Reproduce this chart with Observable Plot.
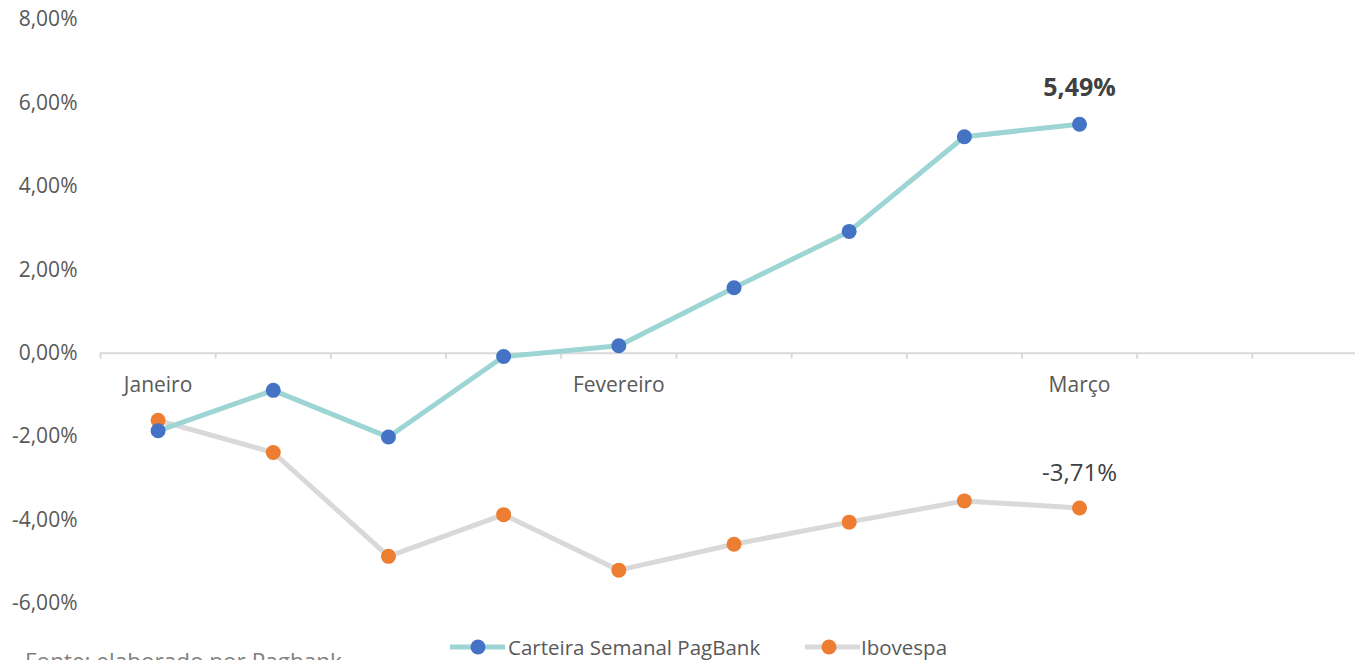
<!DOCTYPE html>
<html>
<head>
<meta charset="utf-8">
<script src="https://cdn.jsdelivr.net/npm/d3@7"></script>
<script src="https://cdn.jsdelivr.net/npm/@observablehq/plot@0.6"></script>
<style>
  html, body { margin: 0; padding: 0; background: #fff; overflow: hidden; }
  body { width: 1355px; height: 660px; font-family: "Open Sans", sans-serif; }
  #chart svg { display: block; }
  #foot { position: relative; width: 1355px; height: 30px; }
  #fonte { position: absolute; left: 25px; top: 15px; font-size: 22.5px; color: #7f7f7f; white-space: nowrap; }
  .leg { position: absolute; top: 3px; display: flex; align-items: center; font-size: 20.5px; color: #595959; white-space: nowrap; }
</style>
</head>
<body>
<div id="chart"></div>
<div id="foot">
  <div id="fonte">Fonte: elaborado por Pagbank</div>
  <div class="leg" style="left:450px">
    <svg width="58" height="24"><line x1="0" y1="12" x2="55" y2="12" stroke="#9dd5d5" stroke-width="5"/><circle cx="28" cy="12" r="7.5" fill="#4472c4"/></svg>
    <span>Carteira Semanal PagBank</span>
  </div>
  <div class="leg" style="left:805px">
    <svg width="56" height="24"><line x1="0" y1="12" x2="55" y2="12" stroke="#d9d9d9" stroke-width="5"/><circle cx="24" cy="12" r="7.5" fill="#ed7d31"/></svg>
    <span>Ibovespa</span>
  </div>
</div>
<script>
// Weekly points (1..9) on an axis of 11 category slots
const weeks = [1, 2, 3, 4, 5, 6, 7, 8, 9];
const carteira = [-1.86, -0.89, -2.01, -0.08, 0.18, 1.57, 2.92, 5.19, 5.49];
const ibovespa = [-1.61, -2.38, -4.87, -3.87, -5.20, -4.58, -4.05, -3.54, -3.71];
const monthLabels = ["Janeiro", "Fevereiro", "Março"];
const monthPositions = [1, 5, 9];
const slotBoundaries = [0.5, 1.5, 2.5, 3.5, 4.5, 5.5, 6.5, 7.5, 8.5, 9.5, 10.5, 11.5];
const yTicks = [-6, -4, -2, 0, 2, 4, 6, 8];
const lastLabels = ["5,49%", "-3,71%"];

const fmt = d => d.toFixed(2).replace(".", ",") + "%";
const cData = weeks.map((w, i) => ({x: w, y: carteira[i]}));
const iData = weeks.map((w, i) => ({x: w, y: ibovespa[i]}));
const months = monthLabels.map((m, i) => ({x: monthPositions[i], label: m}));

const chart = Plot.plot({
  width: 1355,
  height: 630,
  marginLeft: 100,
  marginRight: -12,
  marginTop: 19,
  marginBottom: 27,
  style: {fontFamily: "Open Sans, sans-serif", background: "#fff"},
  x: {type: "linear", domain: [0.5, 11.5], axis: null},
  y: {domain: [-6, 8]},
  marks: [
    Plot.axisY({ticks: yTicks, tickFormat: fmt, tickSize: 0, tickPadding: 23, fontSize: 21, fill: "#595959", label: null}),
    Plot.ruleY([0], {stroke: "#d9d9d9", strokeWidth: 2}),
    Plot.ruleX(slotBoundaries, {x: d => d, y1: 0, y2: 0, insetBottom: -6, stroke: "#d9d9d9", strokeWidth: 2}),
    Plot.text(months, {x: "x", y: 0, text: "label", dy: 32, fontSize: 21, fill: "#595959"}),
    Plot.line(iData, {x: "x", y: "y", stroke: "#d9d9d9", strokeWidth: 5}),
    Plot.line(cData, {x: "x", y: "y", stroke: "#9dd5d5", strokeWidth: 5}),
    Plot.dot(iData, {x: "x", y: "y", r: 7.5, fill: "#ed7d31"}),
    Plot.dot(cData, {x: "x", y: "y", r: 7.5, fill: "#4472c4"}),
    Plot.text([cData[cData.length - 1]], {x: "x", y: "y", text: () => lastLabels[0], dy: -36, fontSize: 25, fontWeight: "bold", fill: "#404040"}),
    Plot.text([iData[iData.length - 1]], {x: "x", y: "y", text: () => lastLabels[1], dy: -35, fontSize: 24, fill: "#404040"})
  ]
});
document.getElementById("chart").appendChild(chart);
</script>
</body>
</html>
